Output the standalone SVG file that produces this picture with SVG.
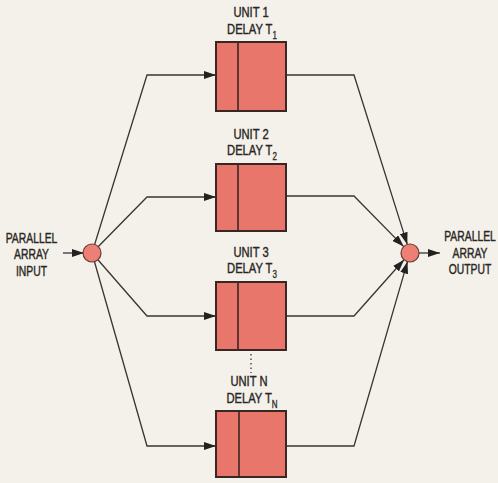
<svg xmlns="http://www.w3.org/2000/svg" width="498" height="483" viewBox="0 0 498 483">
<style>
.lbl{font-family:"Liberation Sans",Arial,sans-serif;font-size:14px;fill:#2a2624;stroke:#2a2624;stroke-width:0.4;text-anchor:middle}
.sub{font-size:10px;stroke-width:0.3}
.box{fill:#e8766b;stroke:#3a2624;stroke-width:2}
.div{stroke:#3a2624;stroke-width:1.6}
.dot{fill:#ec8074;stroke:#6a3a34;stroke-width:1.2}
.con{fill:none;stroke:#3a3432;stroke-width:1.3}
</style>
<defs>
<marker id="ah" markerUnits="userSpaceOnUse" markerWidth="12" markerHeight="8" refX="12" refY="4" orient="auto">
<path d="M0,0 L12,4 L0,8 z" fill="#222"/>
</marker>
</defs>
<rect width="498" height="483" fill="#f3f1ea"/>
<g id="connectors">
<line class="con" x1="63" y1="253" x2="84" y2="253" marker-end="url(#ah)"/>
<polyline class="con" points="92,253 147,75 216,75" marker-end="url(#ah)"/>
<polyline class="con" points="92,253 147,197 216,197" marker-end="url(#ah)"/>
<polyline class="con" points="92,253 147,316 216,316" marker-end="url(#ah)"/>
<polyline class="con" points="92,253 147,446 216,446" marker-end="url(#ah)"/>
<polyline class="con" points="286,75 354,75 407.3,244.4" marker-end="url(#ah)"/>
<polyline class="con" points="286,196 354,196 403.7,246.6" marker-end="url(#ah)"/>
<polyline class="con" points="286,316 354,316 404,259.7" marker-end="url(#ah)"/>
<polyline class="con" points="286,446 354,446 407.5,261.6" marker-end="url(#ah)"/>
<line class="con" x1="419" y1="253" x2="440" y2="253" marker-end="url(#ah)"/>
<line x1="251" y1="354" x2="251" y2="373" stroke="#3a3432" stroke-width="1.3" stroke-dasharray="1.5 3"/>
</g>
<g id="input">
<text class="lbl" transform="translate(31.5,243) scale(0.74,1)">PARALLEL</text>
<text class="lbl" transform="translate(31.5,259) scale(0.74,1)">ARRAY</text>
<text class="lbl" transform="translate(31.5,276) scale(0.74,1)">INPUT</text>
<circle class="dot" cx="92" cy="253" r="9"/>
</g>
<g id="output">
<circle class="dot" cx="410" cy="253" r="9"/>
<text class="lbl" transform="translate(470,241) scale(0.74,1)">PARALLEL</text>
<text class="lbl" transform="translate(470,258) scale(0.74,1)">ARRAY</text>
<text class="lbl" transform="translate(470,274) scale(0.74,1)">OUTPUT</text>
</g>
<g id="unit1">
<text class="lbl" transform="translate(251,17) scale(0.8,1)">UNIT 1</text>
<text class="lbl" transform="translate(252,34) scale(0.8,1)">DELAY T<tspan class="sub" dy="5">1</tspan></text>
<rect class="box" x="216" y="42" width="70" height="69"/>
<line class="div" x1="238" y1="42" x2="238" y2="111"/>
</g>
<g id="unit2">
<text class="lbl" transform="translate(251,139) scale(0.8,1)">UNIT 2</text>
<text class="lbl" transform="translate(252,155) scale(0.8,1)">DELAY T<tspan class="sub" dy="5">2</tspan></text>
<rect class="box" x="216" y="164" width="70" height="67"/>
<line class="div" x1="238" y1="164" x2="238" y2="231"/>
</g>
<g id="unit3">
<text class="lbl" transform="translate(251,257) scale(0.8,1)">UNIT 3</text>
<text class="lbl" transform="translate(252,273) scale(0.8,1)">DELAY T<tspan class="sub" dy="5">3</tspan></text>
<rect class="box" x="216" y="282" width="70" height="68"/>
<line class="div" x1="238" y1="282" x2="238" y2="350"/>
</g>
<g id="unitN">
<text class="lbl" transform="translate(249,386) scale(0.8,1)">UNIT N</text>
<text class="lbl" transform="translate(252,403) scale(0.8,1)">DELAY T<tspan class="sub" dy="5">N</tspan></text>
<rect class="box" x="216" y="411" width="70" height="66"/>
<line class="div" x1="239" y1="411" x2="239" y2="477"/>
</g>
</svg>
